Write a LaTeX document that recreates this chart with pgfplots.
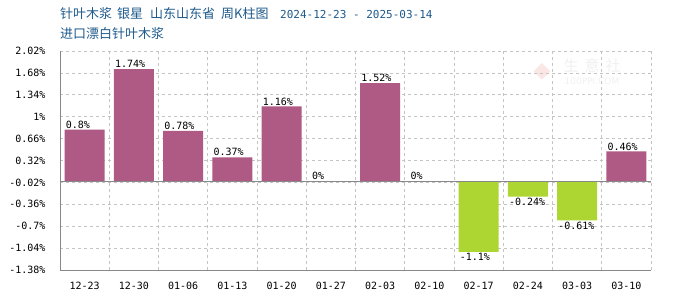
\documentclass[border=0pt]{standalone}
\usepackage{pgfplots}
\usepackage{pgfplotstable}
\pgfplotsset{compat=1.18}
\usepackage{fontspec}
\setmainfont{DejaVu Sans}
\setmonofont{DejaVu Sans Mono}
\newfontfamily\cjk{Noto Sans CJK SC}
\definecolor{pos}{HTML}{AE5A84}
\definecolor{neg}{HTML}{ADD633}
\definecolor{ttl}{HTML}{1E5A8C}
\definecolor{gridc}{HTML}{C4C4C4}
\definecolor{axc}{HTML}{888888}
\definecolor{wm}{HTML}{F0F0F0}
\definecolor{wmr}{HTML}{FBE6E6}

\pgfplotstableread{
x y lab
0 0.80 0.8\%
1 1.74 1.74\%
2 0.78 0.78\%
3 0.37 0.37\%
4 1.16 1.16\%
5 0.00 0\%
6 1.52 1.52\%
7 0.00 0\%
11 0.46 0.46\%
}\postab

\pgfplotstableread{
x y lab
8 -1.10 -1.1\%
9 -0.24 -0.24\%
10 -0.61 -0.61\%
}\negtab

\begin{document}
\begin{tikzpicture}
\useasboundingbox (0,0) rectangle (700pt,300pt);
\node[anchor=west, text=ttl, inner sep=0pt] at (60pt,286pt) {\cjk\fontsize{13}{14}\selectfont 针叶木浆\hspace{5pt}银星\hspace{7pt}山东山东省\hspace{6pt}周K柱图};
\node[anchor=west, text=ttl, inner sep=0pt] at (280pt,286pt) {\ttfamily\fontsize{11}{12}\selectfont 2024-12-23 - 2025-03-14};
\node[anchor=west, text=ttl, inner sep=0pt] at (60pt,266pt) {\cjk\fontsize{13}{14}\selectfont 进口漂白针叶木浆};
\node[text=wmr, inner sep=0pt] at (542pt,228pt) {\fontsize{22}{22}\selectfont\char"25C6};
\node[text=wm, inner sep=0pt] at (592pt,234pt) {\cjk\fontsize{15}{15}\selectfont 生\hspace{6pt}意\hspace{6pt}社};
\node[text=wm, inner sep=0pt] at (592pt,219pt) {\fontsize{9}{9}\selectfont 100PPI.COM};
\begin{axis}[
  at={(60pt,30pt)}, anchor=south west,
  scale only axis, width=591pt, height=219pt,
  xmin=-0.5, xmax=11.5, ymin=-1.38, ymax=2.02,
  ytick={-1.38,-1.04,-0.7,-0.36,-0.02,0.32,0.66,1,1.34,1.68,2.02},
  yticklabels={-1.38\%,-1.04\%,-0.7\%,-0.36\%,-0.02\%,0.32\%,0.66\%,1\%,1.34\%,1.68\%,2.02\%},
  xtick={0,...,11},
  xticklabels={12-23,12-30,01-06,01-13,01-20,01-27,02-03,02-10,02-17,02-24,03-03,03-10},
  minor xtick={0.5,1.5,...,11.5},
  xminorgrids, ymajorgrids,
  grid style={gridc, dashed, line width=0.8pt},
  minor grid style={gridc, dashed, line width=0.8pt},
  axis x line*=bottom, axis y line*=left,
  axis line style={axc, line width=1pt, -},
  major tick style={draw=none}, minor tick style={draw=none},
  ticklabel style={font=\ttfamily\fontsize{10}{10}\selectfont, text=black},
  yticklabel style={xshift=-11pt},
  xticklabel style={yshift=-4pt},
  ybar, bar width=40pt, bar shift=0pt,
  nodes near coords,
  point meta=explicit symbolic,
  clip=false,
]
\addplot[draw=none, fill=pos,
  nodes near coords style={anchor=south west, xshift=-20pt, inner sep=1pt, font=\ttfamily\fontsize{10}{10}\selectfont, text=black}]
  table[x=x, y=y, meta=lab] {\postab};
\addplot[draw=none, fill=neg,
  nodes near coords style={anchor=north west, xshift=-20pt, inner sep=1pt, font=\ttfamily\fontsize{10}{10}\selectfont, text=black}]
  table[x=x, y=y, meta=lab] {\negtab};
\draw[axc, line width=0.8pt] (axis cs:-0.5,0) -- (axis cs:11.5,0);
\end{axis}
\end{tikzpicture}
\end{document}
